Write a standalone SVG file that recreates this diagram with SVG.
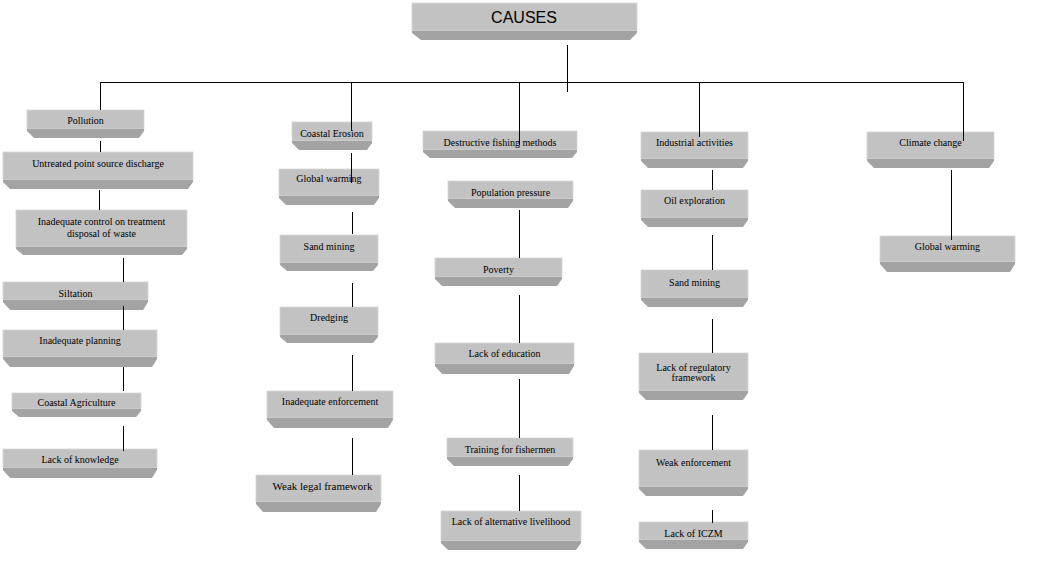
<svg xmlns="http://www.w3.org/2000/svg" width="1063" height="562" viewBox="0 0 1063 562">
<style>
.face{fill:#C2C2C2;stroke:#D6D6D6;stroke-width:0.8}
.band{fill:#A3A3A3}
.t{font-family:"Liberation Serif","Times New Roman",serif;font-size:10px;text-anchor:middle;fill:#000}
.big{font-family:"Liberation Sans",Arial,sans-serif;font-size:16px;text-anchor:middle;fill:#000}
.c{stroke:#000;stroke-width:1;fill:none}
</style>
<rect x="0" y="0" width="1063" height="562" fill="#fff"/>
<g id="nodes">
<g id="causes"><rect class="face" x="412" y="3" width="225" height="28"/><polygon class="band" points="412,31 637,31 637,33 630,40 421,40 412,33"/><text class="big" x="524" y="23">CAUSES</text></g>
<g id="pollution"><rect class="face" x="27" y="110" width="117" height="19"/><polygon class="band" points="27,129 144,129 144,131 139,138 34,138 27,131"/><text class="t" x="85.5" y="124">Pollution</text></g>
<g id="untreated"><rect class="face" x="3" y="152" width="190" height="28"/><polygon class="band" points="3,180 193,180 193,182 188,189 10,189 3,182"/><text class="t" x="98" y="167">Untreated point source discharge</text></g>
<g id="inadequate-control"><rect class="face" x="16" y="210" width="171" height="37"/><polygon class="band" points="16,247 187,247 187,249 182,255 23,255 16,249"/><text class="t" x="101.5" y="225">Inadequate control on treatment</text><text class="t" x="101.5" y="237">disposal of waste</text></g>
<g id="siltation"><rect class="face" x="3" y="282" width="145" height="18"/><polygon class="band" points="3,300 148,300 148,302 143,310 10,310 3,302"/><text class="t" x="75.5" y="297">Siltation</text></g>
<g id="inadequate-planning"><rect class="face" x="3" y="330" width="154" height="27"/><polygon class="band" points="3,357 157,357 157,359 152,367 10,367 3,359"/><text class="t" x="80" y="344">Inadequate planning</text></g>
<g id="coastal-agriculture"><rect class="face" x="12" y="393" width="129" height="16"/><polygon class="band" points="12,409 141,409 141,411 136,417 19,417 12,411"/><text class="t" x="76.5" y="406">Coastal Agriculture</text></g>
<g id="lack-knowledge"><rect class="face" x="3" y="449" width="154" height="19"/><polygon class="band" points="3,468 157,468 157,470 152,478 10,478 3,470"/><text class="t" x="80" y="463">Lack of knowledge</text></g>
<g id="coastal-erosion"><rect class="face" x="292" y="122" width="80" height="19"/><polygon class="band" points="292,141 372,141 372,143 367,150 299,150 292,143"/><text class="t" x="332" y="137">Coastal Erosion</text></g>
<g id="global-warming-1"><rect class="face" x="279" y="169" width="100" height="27"/><polygon class="band" points="279,196 379,196 379,198 374,205 286,205 279,198"/><text class="t" x="329" y="182">Global warming</text></g>
<g id="sand-mining-1"><rect class="face" x="280" y="235" width="98" height="28"/><polygon class="band" points="280,263 378,263 378,265 373,271 287,271 280,265"/><text class="t" x="329" y="250">Sand mining</text></g>
<g id="dredging"><rect class="face" x="280" y="307" width="98" height="28"/><polygon class="band" points="280,335 378,335 378,337 373,343 287,343 280,337"/><text class="t" x="329" y="321">Dredging</text></g>
<g id="inadequate-enforcement"><rect class="face" x="267" y="391" width="126" height="27"/><polygon class="band" points="267,418 393,418 393,420 388,428 274,428 267,420"/><text class="t" x="330" y="405">Inadequate enforcement</text></g>
<g id="weak-legal"><rect class="face" x="256" y="475" width="125" height="27"/><polygon class="band" points="256,502 381,502 381,504 376,512 263,512 256,504"/><text class="t" x="322.5" y="490" style="font-size:11px">Weak legal framework</text></g>
<g id="destructive-fishing"><rect class="face" x="423" y="131" width="154" height="19"/><polygon class="band" points="423,150 577,150 577,152 572,158 430,158 423,152"/><text class="t" x="500" y="146">Destructive fishing methods</text></g>
<g id="population-pressure"><rect class="face" x="448" y="181" width="125" height="18"/><polygon class="band" points="448,199 573,199 573,201 568,208 455,208 448,201"/><text class="t" x="510.5" y="196">Population pressure</text></g>
<g id="poverty"><rect class="face" x="435" y="258" width="127" height="19"/><polygon class="band" points="435,277 562,277 562,279 557,286 442,286 435,279"/><text class="t" x="498.5" y="273">Poverty</text></g>
<g id="lack-education"><rect class="face" x="435" y="343" width="139" height="21"/><polygon class="band" points="435,364 574,364 574,366 569,374 442,374 435,366"/><text class="t" x="504.5" y="357">Lack of education</text></g>
<g id="training"><rect class="face" x="447" y="438" width="126" height="19"/><polygon class="band" points="447,457 573,457 573,459 568,466 454,466 447,459"/><text class="t" x="510" y="453">Training for fishermen</text></g>
<g id="lack-alternative"><rect class="face" x="441" y="511" width="140" height="30"/><polygon class="band" points="441,541 581,541 581,543 576,550 448,550 441,543"/><text class="t" x="511" y="525">Lack of alternative livelihood</text></g>
<g id="industrial"><rect class="face" x="641" y="132" width="107" height="27"/><polygon class="band" points="641,159 748,159 748,161 743,168 648,168 641,161"/><text class="t" x="694.5" y="146">Industrial activities</text></g>
<g id="oil"><rect class="face" x="641" y="190" width="107" height="28"/><polygon class="band" points="641,218 748,218 748,220 743,227 648,227 641,220"/><text class="t" x="694.5" y="204">Oil exploration</text></g>
<g id="sand-mining-2"><rect class="face" x="641" y="270" width="107" height="28"/><polygon class="band" points="641,298 748,298 748,300 743,307 648,307 641,300"/><text class="t" x="694.5" y="286">Sand mining</text></g>
<g id="regulatory"><rect class="face" x="639" y="353" width="109" height="38"/><polygon class="band" points="639,391 748,391 748,393 743,400 646,400 639,393"/><text class="t" x="693.5" y="371">Lack of regulatory</text><text class="t" x="693.5" y="381">framework</text></g>
<g id="weak-enforcement"><rect class="face" x="639" y="450" width="109" height="37"/><polygon class="band" points="639,487 748,487 748,489 743,496 646,496 639,489"/><text class="t" x="693.5" y="466">Weak enforcement</text></g>
<g id="iczm"><rect class="face" x="639" y="522" width="109" height="18"/><polygon class="band" points="639,540 748,540 748,542 743,549 646,549 639,542"/><text class="t" x="693.5" y="537">Lack of ICZM</text></g>
<g id="climate-change"><rect class="face" x="867" y="132" width="127" height="27"/><polygon class="band" points="867,159 994,159 994,161 989,168 874,168 867,161"/><text class="t" x="930.5" y="146">Climate change</text></g>
<g id="global-warming-2"><rect class="face" x="880" y="236" width="135" height="26"/><polygon class="band" points="880,262 1015,262 1015,264 1010,272 887,272 880,264"/><text class="t" x="947.5" y="250">Global warming</text></g>
</g>
<g id="connectors" class="c">
<path d="M567.5,45V92M100,82.5H963.5M100.5,82V110M351.5,82V131M519.5,82V145M699.5,82V137M963.5,82V141"/>
<path d="M100.5,141V152M99.5,190V210M123.5,258V282M123.5,306V330M123.5,367V391M123.5,426V451"/>
<path d="M351.5,153V183M352.5,212V234M352.5,283V307M352.5,355V391M352.5,438V475"/>
<path d="M519.5,210V258M519.5,295V343M519.5,379V438M519.5,475V511"/>
<path d="M712.5,170V190M712.5,235V270M712.5,319V353M712.5,415V450M712.5,510V523"/>
<path d="M951.5,170V240"/>
</g>
</svg>
